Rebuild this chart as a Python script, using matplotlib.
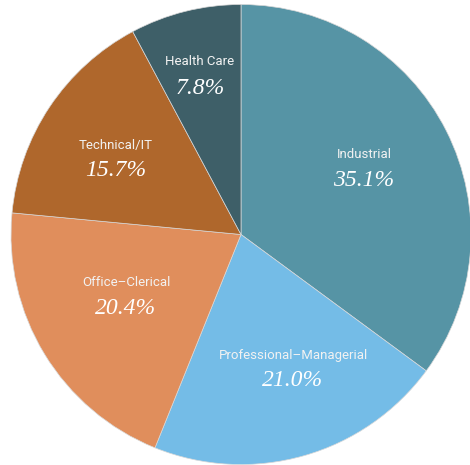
import matplotlib.pyplot as plt

# Share of placements by job category
categories = ['Industrial', 'Professional\u2013Managerial', 'Office\u2013Clerical',
              'Technical/IT', 'Health Care']
shares = [35.1, 21.0, 20.4, 15.7, 7.8]
colors = ['#5694a5', '#74bce7', '#e08e5c', '#af672c', '#3e5f68']

# label centres in pixels (x from left, y from top)
label_pos = [(364, 168), (293, 368), (126, 295), (116, 158), (200, 75)]

W, H = 470, 465
fig = plt.figure(figsize=(W / 100, H / 100), dpi=100)
ax = fig.add_axes([0, 0, 1, 1])
ax.set_xlim(0, W)
ax.set_ylim(0, H)
ax.set_aspect('equal')
ax.axis('off')

ax.pie(shares, colors=colors, startangle=90, counterclock=False,
       center=(241, H - 234.5), radius=230,
       wedgeprops=dict(edgecolor='#d8d8d8', linewidth=0.5))
ax.set_xlim(0, W)
ax.set_ylim(0, H)

for name, val, (x, y) in zip(categories, shares, label_pos):
    ax.text(x, H - y + 13, name, ha='center', va='center', color='#f2f2f2',
            fontsize=9.5, family=['Liberation Sans Narrow', 'Roboto', 'DejaVu Sans'])
    ax.text(x, H - y - 13, f'{val:.1f}%', ha='center', va='center', color='white',
            fontsize=17, style='italic', family=['Liberation Serif', 'DejaVu Serif'])

fig.savefig('out.png', dpi=100)
